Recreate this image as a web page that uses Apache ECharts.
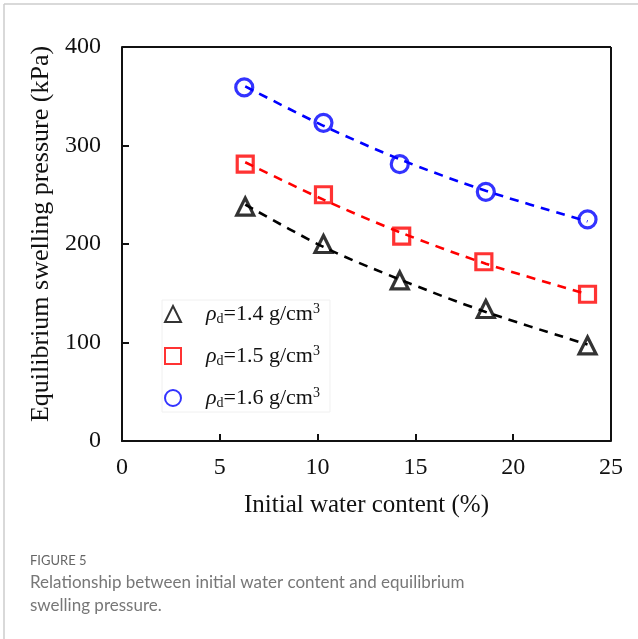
<!DOCTYPE html>
<html>
<head>
<meta charset="utf-8">
<script src="https://cdn.jsdelivr.net/npm/echarts@6/dist/echarts.min.js"></script>
<style>
  html, body { margin: 0; padding: 0; background: #fff; }
  #chart { width: 638px; height: 639px; }
</style>
</head>
<body>
<div id="chart"></div>
<script>
  // measured points: water content (%) and pressure (kPa) per density
  var water14 = [6.3, 10.3, 14.2, 18.6, 23.8];
  var press14 = [238, 200, 163, 134, 97];
  var water15 = [6.3, 10.3, 14.3, 18.5, 23.8];
  var press15 = [281, 250, 208, 182, 149];
  var water16 = [6.25, 10.3, 14.2, 18.6, 23.8];
  var press16 = [359, 323, 281, 253, 225];

  // dashed fitting curves
  var fitX = [6.3, 10.3, 14.2, 18.6, 23.8];
  var fit14 = [240, 197, 164, 131, 98];
  var fit15 = [283, 245, 212, 180, 149];
  var fit16 = [360, 320, 286, 254, 223];

  var names = ['d14', 'd15', 'd16'];
  var labels = { d14: '1.4', d15: '1.5', d16: '1.6' };

  function pairs(xs, ys) {
    var out = [];
    for (var i = 0; i < xs.length; i++) out.push([xs[i], ys[i]]);
    return out;
  }

  var serif = '"Liberation Serif", "DejaVu Serif", serif';
  var chart = echarts.init(document.getElementById('chart'));

  function scatter(name, data, color, symbol, size) {
    return {
      name: name, type: 'scatter', data: data, symbol: symbol, symbolSize: size, z: 5,
      itemStyle: { color: 'rgba(255,255,255,0)', borderColor: color, borderWidth: 3.2 }
    };
  }
  function fit(data, color) {
    return {
      type: 'line', data: data, smooth: 0.3, showSymbol: false, silent: true, z: 3,
      lineStyle: { color: color, width: 2.6, type: [9, 7] }
    };
  }

  var option = {
    animation: false,
    grid: { left: 122, top: 47, width: 489, height: 394 },
    xAxis: {
      type: 'value', min: 0, max: 25, interval: 5,
      name: 'Initial water content (%)', nameLocation: 'middle', nameGap: 52,
      nameTextStyle: { fontFamily: serif, fontSize: 25, color: '#111' },
      axisLine: { lineStyle: { color: '#111', width: 2 } },
      axisTick: { inside: true, length: 7, lineStyle: { color: '#111', width: 2 } },
      axisLabel: { fontFamily: serif, fontSize: 24, color: '#111', margin: 15 },
      splitLine: { show: false }
    },
    yAxis: {
      type: 'value', min: 0, max: 400, interval: 100,
      name: 'Equilibrium swelling pressure (kPa)', nameLocation: 'middle', nameGap: 68,
      nameTextStyle: { fontFamily: serif, fontSize: 26, color: '#111', padding: [0, 0, 0, 20] },
      axisLine: { lineStyle: { color: '#111', width: 2 } },
      axisTick: { inside: true, length: 7, lineStyle: { color: '#111', width: 2 } },
      axisLabel: { fontFamily: serif, fontSize: 24, color: '#111', margin: 21 },
      splitLine: { show: false }
    },
    legend: {
      orient: 'vertical', left: 162, top: 300, itemGap: 18,
      itemWidth: 16, itemHeight: 16,
      data: names,
      backgroundColor: '#fff', borderColor: '#f0f0f0', borderWidth: 1,
      padding: [2, 10, 2, 2],
      formatter: function (n) {
        return '{r|ρ}{s|d}{t|=' + labels[n] + ' g/cm}{p|3}';
      },
      textStyle: {
        padding: [0, 0, 0, 20],
        rich: {
          r: { fontFamily: serif, fontStyle: 'italic', fontSize: 22, color: '#111' },
          s: { fontFamily: serif, fontSize: 14, color: '#111', padding: [10, 0, 0, 0] },
          t: { fontFamily: serif, fontSize: 22, color: '#111' },
          p: { fontFamily: serif, fontSize: 14, color: '#111', padding: [0, 0, 10, 0] }
        }
      }
    },
    graphic: [
      { type: 'line', shape: { x1: 4, y1: 4, x2: 638, y2: 4 }, style: { stroke: '#ccc', lineWidth: 1.5 } },
      { type: 'line', shape: { x1: 4, y1: 4, x2: 4, y2: 639 }, style: { stroke: '#ccc', lineWidth: 1.5 } },
      { type: 'line', shape: { x1: 122, y1: 47, x2: 611, y2: 47 }, style: { stroke: '#111', lineWidth: 2 } },
      { type: 'line', shape: { x1: 611, y1: 47, x2: 611, y2: 441 }, style: { stroke: '#111', lineWidth: 2 } },
      { type: 'text', left: 30, top: 554, style: { text: 'FIGURE 5', fontFamily: 'Lato, sans-serif', fontSize: 13, fill: '#666' } },
      { type: 'text', left: 30, top: 571, style: { text: 'Relationship between initial water content and equilibrium\nswelling pressure.', fontFamily: 'Lato, sans-serif', fontSize: 17, lineHeight: 23, fill: '#777' } }
    ],
    series: [
      fit(pairs(fitX, fit14), '#000'),
      fit(pairs(fitX, fit15), '#ff0000'),
      fit(pairs(fitX, fit16), '#0000ff'),
      scatter('d14', pairs(water14, press14), '#000', 'triangle', 17),
      scatter('d15', pairs(water15, press15), '#ff0000', 'rect', 16),
      scatter('d16', pairs(water16, press16), '#0000ff', 'circle', 17)
    ]
  };
  chart.setOption(option);
</script>
</body>
</html>
